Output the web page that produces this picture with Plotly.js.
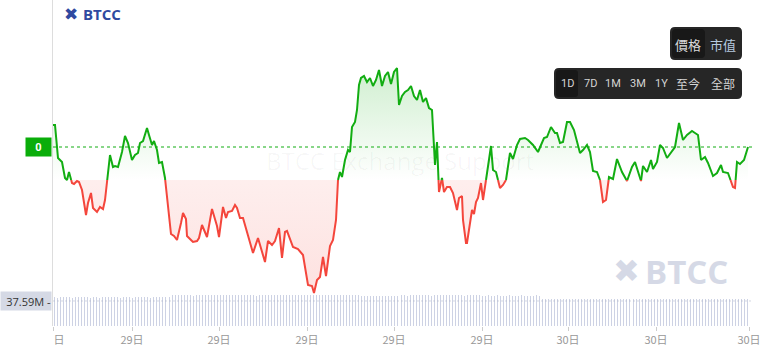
<!DOCTYPE html>
<html><head><meta charset="utf-8">
<script src="https://cdn.plot.ly/plotly-3.0.1.min.js"></script>
<style>html,body{margin:0;padding:0;background:#fff}#c{width:766px;height:355px}</style>
</head><body><div id="c"></div>
<script>
// ---- data (time in chart units, change values) ----
const times = [
 53,55,58,62,65,67,69,72,74,77,
 79,82,86,88,91,93,97,100,103,105,
 107,110,113,115,118,122,125,128,132,135,
 138,140,143,147,149,152,154,157,159,162,
 165,168,171,174,177,181,183,186,187,191,
 193,197,199,202,205,207,212,214,217,219,
 223,226,228,232,235,237,240,243,247,249,
 253,258,265,268,272,275,279,282,285,287,
 293,298,303,308,312,314,317,320,323,326,
 330,333,336,338,340,342,345,348,350,352,
 355,357,359,361,364,367,370,373,376,379,
 382,385,388,391,394,397,399,402,405,408,
 411,414,417,420,423,426,429,432,435,437,
 439,442,444,447,450,453,457,459,462,463,
 466,467,470,472,474,476,478,481,483,486,
 491,493,496,500,503,506,510,513,517,520,
 525,528,533,538,544,547,551,555,557,560,
 563,567,570,574,580,583,587,590,593,597,
 600,603,606,609,613,617,622,627,632,635,
 638,641,643,647,651,653,657,660,663,667,
 671,675,679,683,687,692,695,698,701,705,
 708,713,717,721,723,728,733,735,737,740,
 744,748];
const changes = [
 22,22,-11,-15,-31,-33,-25,-36,-37,-34,
 -35,-43,-68,-56,-46,-61,-65,-60,-62,-53,
 -35,-8,-20,-19,-20,-5,11,4,-13,-8,
 -6,4,6,19,12,2,6,-3,-16,-15,
 -31,-60,-87,-89,-93,-76,-66,-72,-89,-93,
 -95,-94,-91,-78,-85,-90,-62,-69,-79,-90,
 -60,-71,-65,-64,-58,-61,-71,-71,-85,-93,
 -106,-91,-115,-94,-98,-94,-81,-111,-85,-84,
 -100,-102,-108,-138,-139,-146,-133,-130,-110,-129,
 -99,-93,-73,-33,-25,-30,-13,-3,-5,20,
 25,37,62,69,71,65,69,61,67,77,
 61,71,75,63,75,79,42,51,55,57,
 61,51,47,57,45,49,39,37,-18,5,
 -45,-31,-45,-40,-40,-46,-63,-51,-49,-73,
 -96,-96,-73,-63,-67,-55,-51,-36,-53,-33,
 1,-23,-25,-41,-38,-33,-6,-12,2,8,
 9,7,2,-5,9,10,20,14,14,4,
 5,25,25,17,-6,-3,2,-5,-24,-25,
 -33,-55,-53,-30,-32,-12,-25,-34,-20,-15,
 -25,-34,-19,-25,-13,-22,-15,2,-1,-11,
 -5,0,24,7,12,16,14,12,-13,-10,
 -16,-29,-26,-18,-25,-26,-40,-41,-15,-17,
 -13,0];
const baseline = -33;      // open reference level
const currentLabel = '0';
const volumeLabel = '37.59M';
const volumeRef = 37.59e6;
const volumes = [ // millions
 43.1,42.8,43.4,42.9,43.0,43.6,42.7,43.2,43.3,42.9,
 43.5,43.0,42.8,43.4,43.1,42.6,43.3,43.0,43.7,42.9,
 43.2,43.1,42.8,43.5,43.0,43.3,42.7,43.2,43.4,42.9,
 43.1,43.6,42.8,43.0,43.3,43.2,42.9,43.4,43.1,
 46.1,46.4,45.9,46.2,46.6,46.0,46.3,45.8,46.5,46.2,
 46.0,46.7,46.1,45.9,46.4,46.2,46.5,46.0,46.3,46.8,
 46.1,45.9,46.4,46.6,46.2,46.0,46.3,46.5,45.8,46.2,
 46.4,46.1,46.7,46.0,46.3,46.2,45.9,46.5,46.1,46.4,
 46.0,46.6,46.2,46.3,45.9,46.4,46.1,46.5,46.2,46.0,
 46.3,46.7,46.1,46.4,45.9,46.2,46.5,46.0,46.3,46.1,
 46.4,46.2,46.6,
 44.6,44.9,44.5,44.8,44.4,44.7,45.0,44.6,44.8,44.5,44.9,44.7,44.6,
 46.0,46.3,45.8,46.1,46.4,46.0,46.2,45.9,46.3,46.1,
 45.8,46.2,46.4,46.0,46.1,45.9,46.3,46.2,46.0,46.4,
 46.1,45.8,46.2,46.0,46.3,46.1,45.9,
 45.3,45.6,46.8,45.2,45.5,47.1,45.4,45.7,45.1,46.9,
 45.5,45.3,45.6,47.0,45.2,45.4,45.8,45.3,46.7,45.5,
 40.6,40.9,40.4,40.7,41.0,40.5,40.8,40.6,40.3,40.9,
 40.7,40.5,40.8,41.1,40.6,40.4,40.9,40.7,40.5,40.8,
 40.6,41.0,40.4,40.7,40.9,40.5,40.6,40.8,40.3,40.7,
 41.0,40.6,40.5,40.9,40.7,40.4,40.8,40.6,41.1,40.5,
 40.7,40.9,40.4,40.6,40.8,40.5,40.7,41.0,40.6,40.4,
 40.8,40.7,40.5,40.9,40.6,40.3,40.8,40.7,40.5,40.9,
 40.6,40.4,40.8,40.7,40.5,40.6,40.9,40.2,40.7];
const volStart = 54.5, volEnd = 747.5;
const tickVals = [53,132,219,307,394,482,568,656,749];
const tickText = ['<span style="color:rgba(255,255,255,0)">29</span>日','29日','29日','29日','29日','29日','30日','30日','30日'];
const toggle1 = ['價格','市值'];
const toggle2 = ['1D','7D','1M','3M','1Y','至今','全部'];

// ---- geometry helpers ----
const W=766,H=355,ML=53,MR=14,MT=0,MB=29;
const PW=W-ML-MR, PH=H-MT-MB;
const px=x=>(x-ML)/PW, py=y=>(H-MB-y)/PH;

// split line at baseline crossings
const P=[];
for(let i=0;i<times.length;i++){
  if(i>0){
    const a=changes[i-1], b=changes[i];
    if((a-baseline)*(b-baseline)<0){
      const f=(baseline-a)/(b-a);
      P.push([times[i-1]+f*(times[i]-times[i-1]), baseline]);
    }
  }
  P.push([times[i],changes[i]]);
}
const X=P.map(p=>p[0]);
const up=P.map(p=>p[1]>=baseline?p[1]:null);
const dn=P.map(p=>p[1]<=baseline?p[1]:null);
const upFill=P.map(p=>Math.max(p[1],baseline));
const dnFill=P.map(p=>Math.min(p[1],baseline));
const base=P.map(()=>baseline);

const GREEN='#12ad12', RED='#f4463c';
const step=(volEnd-volStart)/(volumes.length-1);
const volX=volumes.map((v,i)=>volStart+i*step);

const traces=[
 {x:volX,y:volumes.map(v=>v*1e6),type:'bar',yaxis:'y2',marker:{color:'#cdd2e4',line:{width:0}},width:1,hoverinfo:'skip'},
 {x:X,y:base,mode:'lines',line:{width:0},hoverinfo:'skip'},
 {x:X,y:upFill,mode:'lines',line:{width:0},fill:'tonexty',
  fillgradient:{type:'vertical',start:baseline,stop:80,colorscale:[[0,'rgba(18,173,18,0)'],[1,'rgba(18,173,18,0.2)']]},hoverinfo:'skip'},
 {x:X,y:base,mode:'lines',line:{width:0},hoverinfo:'skip'},
 {x:X,y:dnFill,mode:'lines',line:{width:0},fill:'tonexty',
  fillgradient:{type:'vertical',start:-146,stop:baseline,colorscale:[[0,'rgba(244,70,60,0.16)'],[1,'rgba(244,70,60,0.09)']]},hoverinfo:'skip'},
 {x:X,y:dn,mode:'lines',line:{color:RED,width:2},connectgaps:false},
 {x:X,y:up,mode:'lines',line:{color:GREEN,width:2},connectgaps:false}
];

function rrect(x0,y0,x1,y1,r,color){
  const X0=px(x0),X1=px(x1),Y0=py(y0),Y1=py(y1),rx=r/PW,ry=r/PH;
  return {type:'path',xref:'paper',yref:'paper',fillcolor:color,line:{width:0},layer:'above',
   path:`M${X0+rx},${Y0} L${X1-rx},${Y0} Q${X1},${Y0} ${X1},${Y0-ry} L${X1},${Y1+ry} Q${X1},${Y1} ${X1-rx},${Y1} L${X0+rx},${Y1} Q${X0},${Y1} ${X0},${Y1+ry} L${X0},${Y0-ry} Q${X0},${Y0} ${X0+rx},${Y0} Z`};
}
const CJK='"Noto Sans CJK TC","Noto Sans",sans-serif';
const shapes=[
 {type:'line',xref:'paper',yref:'y',x0:0,x1:1,y0:0,y1:0,line:{color:GREEN,width:1,dash:'3px,3px'}},
 {type:'line',xref:'paper',yref:'y2',x0:0,x1:1,y0:volumeRef,y1:volumeRef,line:{color:'rgba(170,178,200,0.5)',width:1,dash:'2px,2px'},layer:'above'},
 rrect(670,27,742,60,5,'#262626'),
 rrect(672,29,705,58,4,'#181818'),
 rrect(554,68,742,99,5,'#262626'),
 rrect(556,70,578,97,3,'#181818')
];
const ann=[
 {xref:'paper',yref:'y',x:px(52),y:0,xanchor:'right',yanchor:'middle',text:'<b>'+currentLabel+'</b>',showarrow:false,
  bgcolor:'#0aad0a',width:25,height:18,borderpad:0,font:{color:'#fff',size:11,family:'Roboto, sans-serif'}},
 {xref:'paper',yref:'y2',x:px(52),y:volumeRef,xanchor:'right',yanchor:'middle',text:volumeLabel+' -',showarrow:false,align:'right',
  bgcolor:'#d5d9e5',width:50,height:18,borderpad:0,font:{color:'#333',size:11,family:'"Open Sans", sans-serif'}},
 {xref:'paper',yref:'paper',x:px(80),y:py(14),xanchor:'right',yanchor:'middle',text:'✖',showarrow:false,font:{color:'#2f4aa0',size:17,family:'DejaVu Sans'}},
 {xref:'paper',yref:'paper',x:px(81),y:py(14),xanchor:'left',yanchor:'middle',text:'<b>BTCC</b>',showarrow:false,font:{color:'#2f4aa0',size:15,family:'"Open Sans", sans-serif'}},
 {xref:'paper',yref:'paper',x:px(400),y:py(160),xanchor:'center',yanchor:'middle',text:'BTCC Exchange Support',showarrow:false,font:{color:'rgba(0,0,0,0.035)',size:24,family:'"Open Sans", sans-serif'}},
 {xref:'paper',yref:'paper',x:px(642),y:py(271),xanchor:'right',yanchor:'middle',text:'✖',showarrow:false,font:{color:'#d5d9e6',size:32,family:'DejaVu Sans'}},
 {xref:'paper',yref:'paper',x:px(643),y:py(271),xanchor:'left',yanchor:'middle',text:'<b>BTCC</b>',showarrow:false,font:{color:'#d5d9e6',size:33,family:'"Open Sans", sans-serif'}}
];
const t1x=[688,723];
toggle1.forEach((t,i)=>ann.push({xref:'paper',yref:'paper',x:px(t1x[i]),y:py(44),xanchor:'center',yanchor:'middle',text:t,showarrow:false,
  font:{color:i===0?'#d9d9d9':'#b6cbe0',size:13,family:CJK}}));
const t2x=[567,590,613,638,661,688,723];
toggle2.forEach((t,i)=>ann.push({xref:'paper',yref:'paper',x:px(t2x[i]),y:py(84),xanchor:'center',yanchor:'middle',text:t,showarrow:false,
  font:{color:'#d5d5d5',size:i<5?11:12,family:i<5?'Roboto, sans-serif':CJK}}));

const layout={
 width:W,height:H,margin:{l:ML,r:MR,t:MT,b:MB},paper_bgcolor:'#fff',plot_bgcolor:'rgba(0,0,0,0)',showlegend:false,
 xaxis:{range:[ML,W-MR],tickvals:tickVals,ticktext:tickText,showgrid:false,zeroline:false,ticks:'outside',ticklen:4,tickcolor:'#ccc',
   tickfont:{color:'#999',size:11,family:'"Noto Sans CJK SC", sans-serif'},showline:false,fixedrange:true},
 yaxis:{range:[-179,147],domain:[0,1],showgrid:false,zeroline:false,showticklabels:false,showline:true,linecolor:'#ddd',linewidth:1,fixedrange:true},
 yaxis2:{range:[0,68.6e6],domain:[0,0.14],anchor:'x',showgrid:false,zeroline:false,showticklabels:false,fixedrange:true},
 shapes:shapes,annotations:ann,bargap:0
};
Plotly.newPlot('c',traces,layout,{displayModeBar:false,staticPlot:true});
</script></body></html>
